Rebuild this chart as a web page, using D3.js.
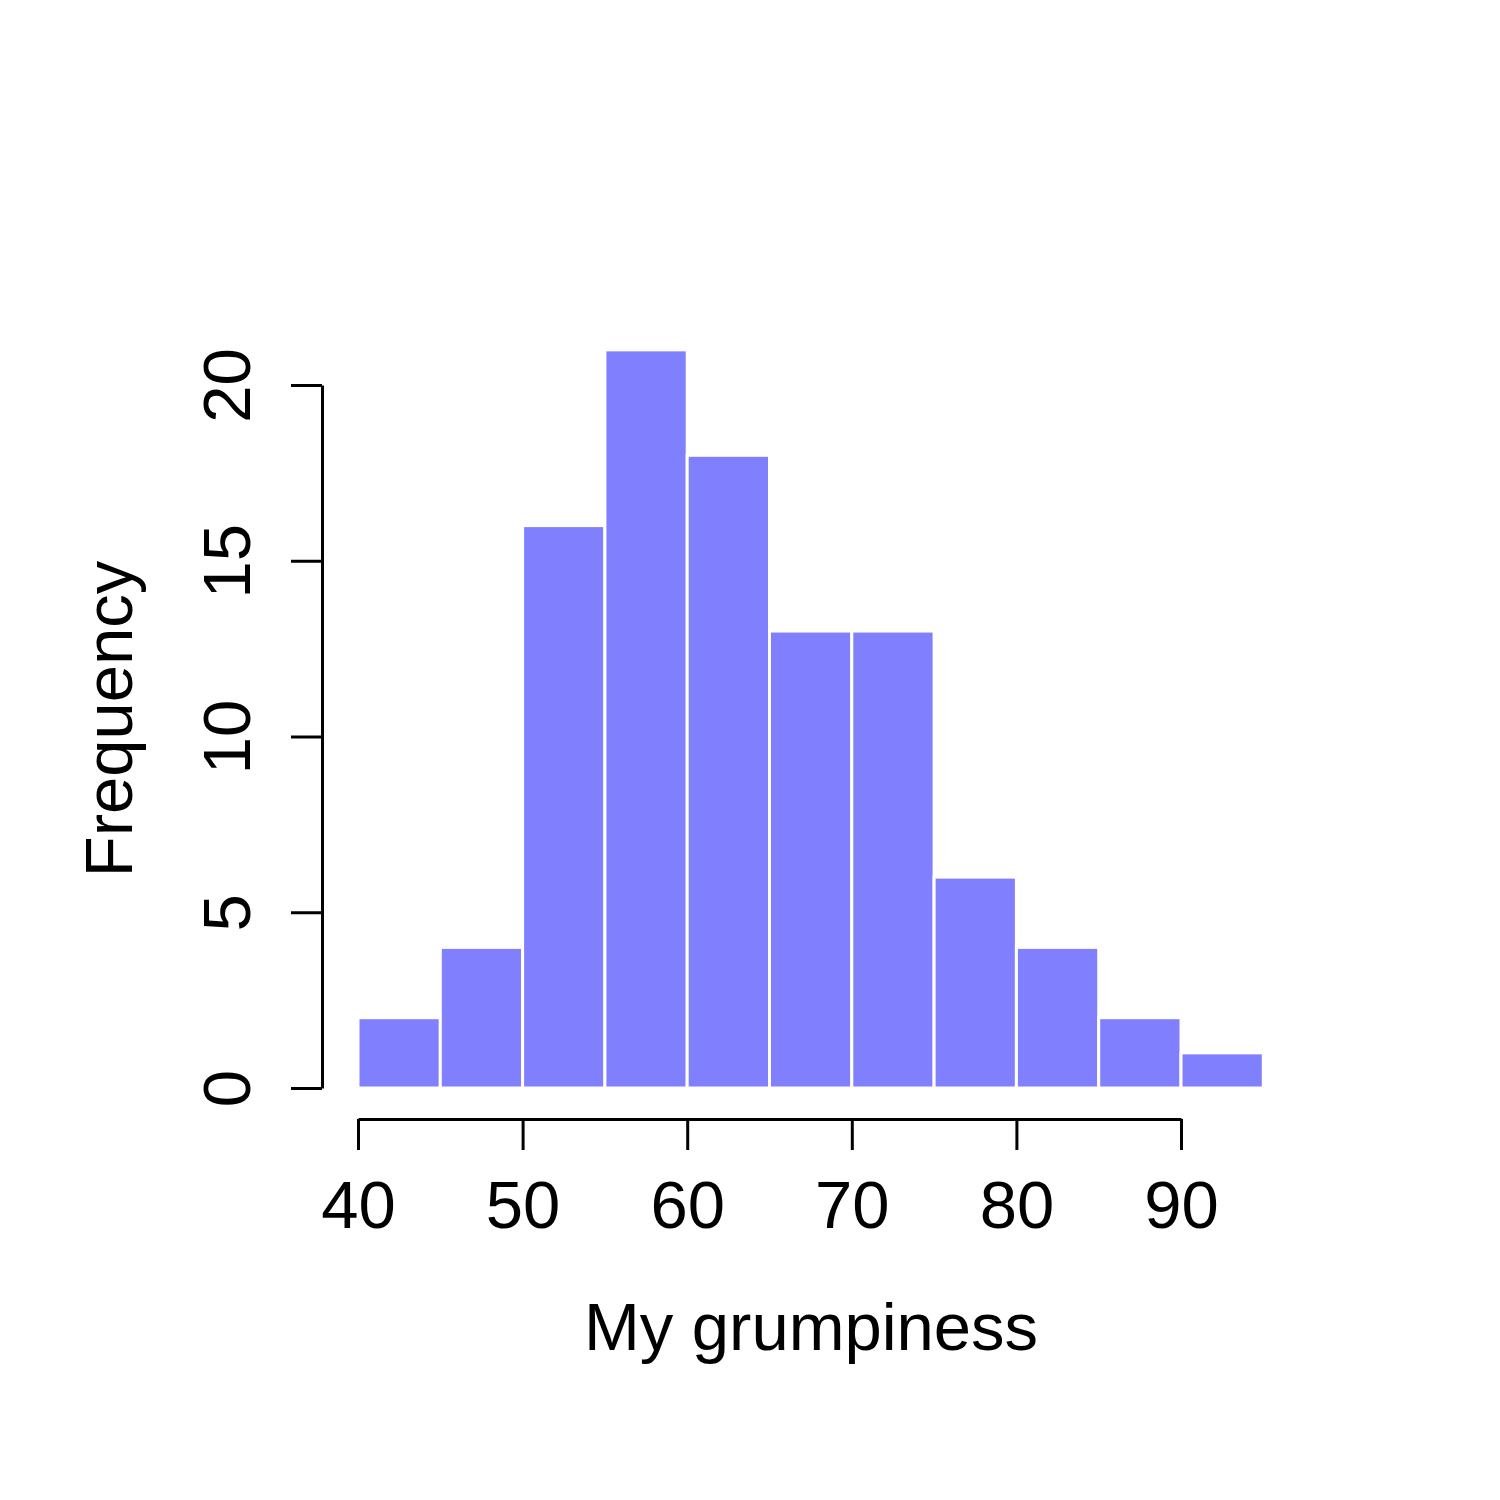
<!DOCTYPE html>
<html>
<head>
<meta charset="utf-8">
<script src="https://cdn.jsdelivr.net/npm/d3@7"></script>
<style>
  body { margin: 0; background: #fff; }
  text { font-family: "Liberation Sans", Arial, sans-serif; fill: #000; }
</style>
</head>
<body>
<svg id="chart" width="1500" height="1500"></svg>
<script>
// Histogram bins (left edges) and counts
var binStarts = [40, 45, 50, 55, 60, 65, 70, 75, 80, 85, 90];
var binWidth = 5;
var counts = [2, 4, 16, 21, 18, 13, 13, 6, 4, 2, 1];
var xTicks = [40, 50, 60, 70, 80, 90];
var yTicks = [0, 5, 10, 15, 20];

var svg = d3.select("#chart");

// scales, axis ends = first and last tick as in base R
var x = d3.scaleLinear().domain([40, 90]).range([358, 1181]);
var y = d3.scaleLinear().domain([0, 20]).range([1088, 385]);

// bars
svg.append("g")
    .selectAll("rect")
    .data(binStarts)
    .enter().append("rect")
        .attr("x", function(d) { return x(d); })
        .attr("y", function(d, i) { return y(counts[i]); })
        .attr("width", function(d) { return x(d + binWidth) - x(d); })
        .attr("height", function(d, i) { return y(0) - y(counts[i]); })
        .attr("fill", "#8080FF")
        .attr("stroke", "#ffffff")
        .attr("stroke-width", 3);

// x axis
var xAxis = svg.append("g")
    .attr("transform", "translate(0,1119)")
    .call(d3.axisBottom(x).tickValues(xTicks).tickSize(31).tickSizeOuter(0));
xAxis.selectAll("path, line").attr("stroke", "#000").attr("stroke-width", 3);
xAxis.selectAll("text")
    .attr("y", 109)
    .attr("dy", 0)
    .style("font-size", "67px")
    .style("font-family", "Liberation Sans, Arial, sans-serif");

// y axis
var yAxis = svg.append("g")
    .attr("transform", "translate(322,0)")
    .call(d3.axisLeft(y).tickValues(yTicks).tickSize(31).tickSizeOuter(0));
yAxis.selectAll("path, line").attr("stroke", "#000").attr("stroke-width", 3);
yAxis.selectAll("text")
    .attr("transform", "rotate(-90)")
    .attr("x", 0)
    .attr("y", -72)
    .attr("dy", 0)
    .attr("text-anchor", "middle")
    .style("font-size", "67px")
    .style("font-family", "Liberation Sans, Arial, sans-serif");

// axis titles
svg.append("text")
    .attr("x", 811)
    .attr("y", 1350)
    .attr("text-anchor", "middle")
    .style("font-size", "67px")
    .text("My grumpiness");

svg.append("text")
    .attr("transform", "translate(132,719) rotate(-90)")
    .attr("text-anchor", "middle")
    .style("font-size", "67px")
    .text("Frequency");
</script>
</body>
</html>
